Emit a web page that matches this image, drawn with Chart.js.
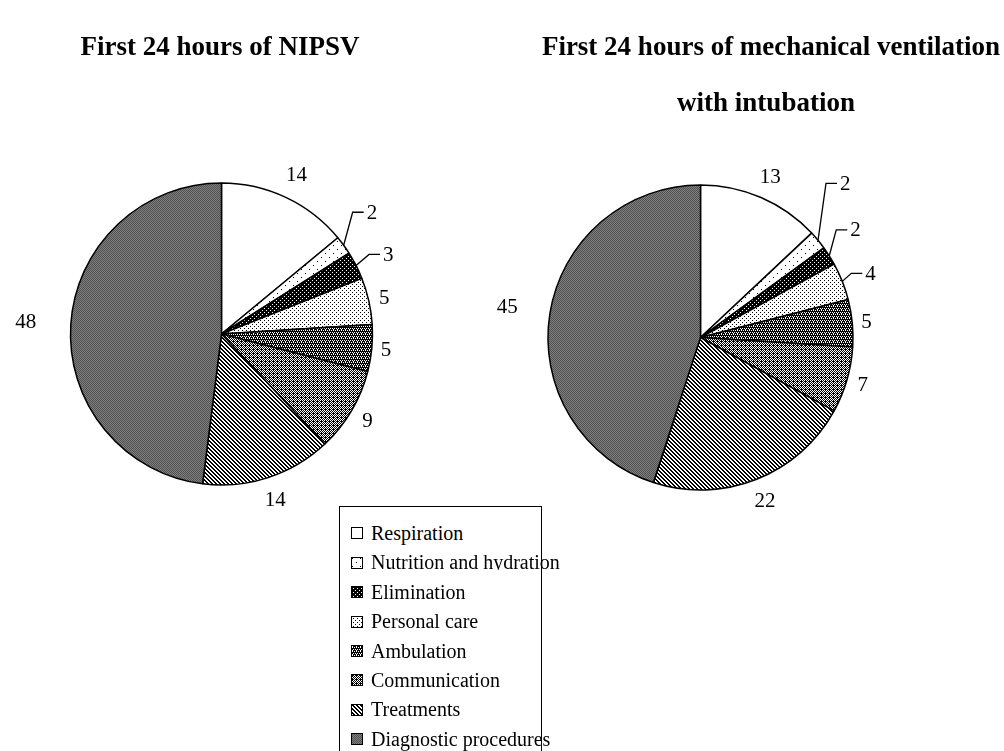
<!DOCTYPE html>
<html>
<head>
<meta charset="utf-8">
<script src="https://cdn.jsdelivr.net/npm/chart.js@4.4.0/dist/chart.umd.min.js"></script>
<style>
  html, body { margin:0; padding:0; background:#fff; width:1004px; height:751px; overflow:hidden; }
  body { position:relative; font-family:"Liberation Serif","Times New Roman",serif; color:#000; }
  canvas { position:absolute; left:0; top:0; }
  .title { position:absolute; font-weight:bold; font-size:27px; line-height:30px; white-space:nowrap; transform:translateX(-50%); }
  #legend { position:absolute; left:339px; top:506px; width:203px; height:270px; border:1.5px solid #000; box-sizing:border-box; background:#fff; }
  .item { position:absolute; left:11px; height:26px; line-height:26px; font-size:20px; white-space:nowrap; overflow:hidden; }
  .item canvas { position:static; display:inline-block; vertical-align:middle; margin-right:8px; margin-top:-4px; }
</style>
</head>
<body>
<canvas id="c1" width="1004" height="751"></canvas>
<canvas id="c2" width="1004" height="751"></canvas>
<div class="title" id="t1" style="left:220px; top:31px;"></div>
<div class="title" id="t2a" style="left:771px; top:31px;"></div>
<div class="title" id="t2b" style="left:766px; top:87px;"></div>
<div id="legend"></div>
<script>
// ---------- data ----------
const categories = ["Respiration", "Nutrition and hydration", "Elimination", "Personal care",
                    "Ambulation", "Communication", "Treatments", "Diagnostic procedures"];
const nipsvValues = [14, 2, 3, 5, 5, 9, 14, 48];
const mvValues    = [13, 2, 2, 4, 5, 7, 22, 45];
const titleNipsv = "First 24 hours of NIPSV";
const titleMv = ["First 24 hours of mechanical ventilation", "with intubation"];

// ---------- patterns (styling) ----------
function tile(w, h, bg, fg, pix) {
  const c = document.createElement('canvas');
  c.width = w; c.height = h;
  const x = c.getContext('2d');
  x.fillStyle = bg; x.fillRect(0, 0, w, h);
  x.fillStyle = fg;
  pix.forEach(p => x.fillRect(p[0], p[1], 1, 1));
  return c;
}
const tiles = [
  tile(4, 4, '#ffffff', '#000', []),                                   // Respiration
  tile(8, 8, '#ffffff', '#000', [[1,1],[5,5]]),                         // Nutrition
  tile(4, 4, '#000000', '#fff', [[0,0],[2,2]]),                         // Elimination
  tile(4, 4, '#ffffff', '#000', [[0,0],[2,2]]),                         // Personal care
  tile(4, 4, '#000000', '#fff', [[0,0],[2,0],[1,2],[3,2],[1,1]]),      // Ambulation
  tile(4, 4, '#ffffff', '#000', [[1,0],[3,0],[0,1],[2,1],[1,2],[3,2],[0,3],[2,3],[1,1]]), // Communication
  tile(4, 4, '#ffffff', '#000', [[0,0],[1,1],[2,2],[3,3],[1,0],[2,1],[3,2],[0,3]]), // Treatments
  tile(2, 2, '#7e7e7e', '#525252', [[0,0],[1,1]])                       // Diagnostic
];
const tmpCtx = document.createElement('canvas').getContext('2d');
const patterns = tiles.map(t => tmpCtx.createPattern(t, 'repeat'));

// ---------- label plugin ----------
const sliceLabels = {
  id: 'sliceLabels',
  afterDatasetsDraw(chart, args, opts) {
    const ctx = chart.ctx;
    const meta = chart.getDatasetMeta(0);
    const vals = chart.data.datasets[0].data;
    ctx.save();
    ctx.font = opts.font;
    ctx.fillStyle = '#000';
    ctx.strokeStyle = '#000';
    ctx.lineWidth = 1.3;
    meta.data.forEach((arc, i) => {
      const p = arc.getProps(['x', 'y', 'startAngle', 'endAngle', 'outerRadius'], true);
      const a = (p.startAngle + p.endAngle) / 2;
      const ca = Math.cos(a), sa = Math.sin(a);
      const txt = String(vals[i]);
      const w = ctx.measureText(txt).width;
      const ld = opts.leaders[i];
      if (ld) {
        const ex = p.x + p.outerRadius * ca, ey = p.y + p.outerRadius * sa;
        const kx = ex + ld[0], ky = ey + ld[1];
        ctx.beginPath();
        ctx.moveTo(ex, ey); ctx.lineTo(kx, ky); ctx.lineTo(kx + opts.leaderLen, ky);
        ctx.stroke();
        ctx.textAlign = 'left'; ctx.textBaseline = 'middle';
        ctx.fillText(txt, kx + opts.leaderLen + 3, ky + 1);
      } else {
        const half = Math.abs(ca) * w / 2 + Math.abs(sa) * opts.halfH;
        const d = p.outerRadius + opts.gap + half + (opts.extra[i] || 0);
        ctx.textAlign = 'center'; ctx.textBaseline = 'middle';
        ctx.fillText(txt, p.x + d * ca, p.y + d * sa + 1);
      }
    });
    ctx.restore();
  }
};

function pie(id, values, cx, cy, r, labelOpts) {
  const bw = 1.5;
  const half = r + bw / 2;
  return new Chart(document.getElementById(id), {
    type: 'pie',
    data: { labels: categories, datasets: [{ data: values, backgroundColor: patterns,
             borderColor: '#000', borderWidth: bw }] },
    options: {
      responsive: false, animation: false, events: [],
      layout: { padding: { left: cx - half, top: cy - half, right: 1004 - cx - half, bottom: 751 - cy - half } },
      plugins: { legend: { display: false }, tooltip: { enabled: false }, sliceLabels: labelOpts }
    },
    plugins: [sliceLabels]
  });
}

const labelFont = '21px "Liberation Serif", "Times New Roman", serif';
pie('c1', nipsvValues, 221.5, 334, 151,
    { font: labelFont, gap: 8, halfH: 12, extra: { 0: 2, 7: 26 }, leaderLen: 11,
      leaders: { 1: [9, -33], 2: [13, -11] } });
pie('c2', mvValues, 700.5, 337.5, 152.5,
    { font: labelFont, gap: 8, halfH: 12, extra: { 7: 23 }, leaderLen: 11,
      leaders: { 1: [8, -57], 2: [7, -26], 3: [9, -8] } });

// ---------- titles ----------
document.getElementById('t1').textContent = titleNipsv;
document.getElementById('t2a').textContent = titleMv[0];
document.getElementById('t2b').textContent = titleMv[1];

// ---------- legend ----------
const legend = document.getElementById('legend');
categories.forEach((name, i) => {
  const row = document.createElement('div');
  row.className = 'item';
  row.style.top = (13 + i * 29.4) + 'px';
  if (i === 1) row.style.height = '21px';
  const sw = document.createElement('canvas');
  sw.width = 12; sw.height = 12;
  const sx = sw.getContext('2d');
  sx.fillStyle = sx.createPattern(tiles[i], 'repeat');
  sx.fillRect(0, 0, 12, 12);
  sx.strokeStyle = '#000'; sx.lineWidth = 1;
  sx.strokeRect(0.5, 0.5, 11, 11);
  row.appendChild(sw);
  row.appendChild(document.createTextNode(name));
  legend.appendChild(row);
});
</script>
</body>
</html>
